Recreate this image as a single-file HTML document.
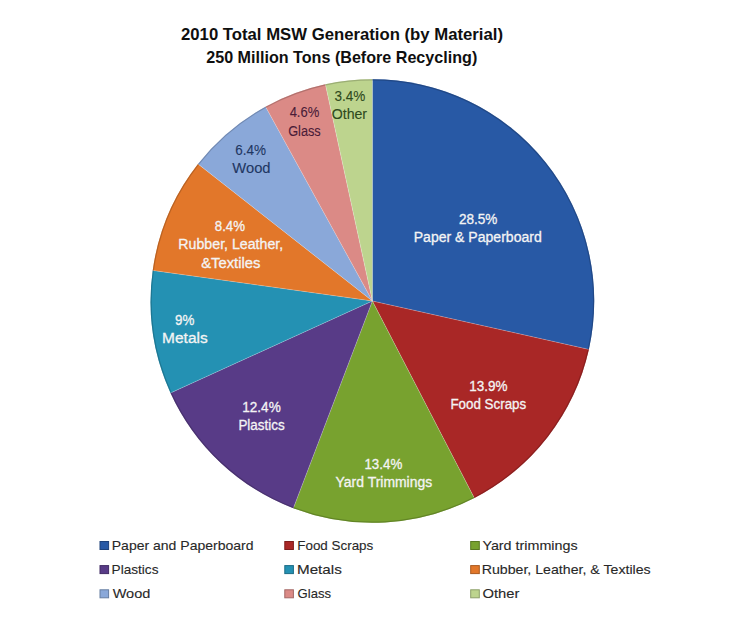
<!DOCTYPE html>
<html><head><meta charset="utf-8"><style>
html,body{margin:0;padding:0;background:#fff;}
svg{display:block;}
text{font-family:"Liberation Sans",sans-serif;}
</style></head><body>
<svg width="750" height="625" viewBox="0 0 750 625">
<rect width="750" height="625" fill="#ffffff"/>
<g>
<path d="M372.4,301.0 L372.40,79.20 A221.8,221.8 0 0 1 588.86,349.38 Z" fill="#2859A5"/>
<path d="M372.4,301.0 L588.86,349.38 A221.8,221.8 0 0 1 474.33,497.99 Z" fill="#A92726"/>
<path d="M372.4,301.0 L474.33,497.99 A221.8,221.8 0 0 1 293.35,508.23 Z" fill="#78A22F"/>
<path d="M372.4,301.0 L293.35,508.23 A221.8,221.8 0 0 1 170.54,392.91 Z" fill="#583B87"/>
<path d="M372.4,301.0 L170.54,392.91 A221.8,221.8 0 0 1 152.72,270.44 Z" fill="#2491B3"/>
<path d="M372.4,301.0 L152.72,270.44 A221.8,221.8 0 0 1 198.00,163.96 Z" fill="#E2772A"/>
<path d="M372.4,301.0 L198.00,163.96 A221.8,221.8 0 0 1 265.55,106.64 Z" fill="#8AA8D9"/>
<path d="M372.4,301.0 L265.55,106.64 A221.8,221.8 0 0 1 325.38,84.24 Z" fill="#DB8A86"/>
<path d="M372.4,301.0 L325.38,84.24 A221.8,221.8 0 0 1 372.40,79.20 Z" fill="#BDD48E"/>
</g>
<g stroke="#ffffff" stroke-opacity="0.3" stroke-width="0.8">
<line x1="372.4" y1="301.0" x2="372.40" y2="79.20"/>
<line x1="372.4" y1="301.0" x2="588.86" y2="349.38"/>
<line x1="372.4" y1="301.0" x2="474.33" y2="497.99"/>
<line x1="372.4" y1="301.0" x2="293.35" y2="508.23"/>
<line x1="372.4" y1="301.0" x2="170.54" y2="392.91"/>
<line x1="372.4" y1="301.0" x2="152.72" y2="270.44"/>
<line x1="372.4" y1="301.0" x2="198.00" y2="163.96"/>
<line x1="372.4" y1="301.0" x2="265.55" y2="106.64"/>
<line x1="372.4" y1="301.0" x2="325.38" y2="84.24"/>
</g>
<g><path d="M372.40,79.80 A221.20000000000002,221.20000000000002 0 0 1 588.27,349.25" fill="none" stroke="#1C3E73" stroke-width="1.2" stroke-opacity="0.6"/>
<path d="M588.27,349.25 A221.20000000000002,221.20000000000002 0 0 1 474.06,497.46" fill="none" stroke="#761B1A" stroke-width="1.2" stroke-opacity="0.6"/>
<path d="M474.06,497.46 A221.20000000000002,221.20000000000002 0 0 1 293.56,507.67" fill="none" stroke="#547120" stroke-width="1.2" stroke-opacity="0.6"/>
<path d="M293.56,507.67 A221.20000000000002,221.20000000000002 0 0 1 171.08,392.66" fill="none" stroke="#3D295E" stroke-width="1.2" stroke-opacity="0.6"/>
<path d="M171.08,392.66 A221.20000000000002,221.20000000000002 0 0 1 153.31,270.52" fill="none" stroke="#19657D" stroke-width="1.2" stroke-opacity="0.6"/>
<path d="M153.31,270.52 A221.20000000000002,221.20000000000002 0 0 1 198.47,164.33" fill="none" stroke="#9E531D" stroke-width="1.2" stroke-opacity="0.6"/>
<path d="M198.47,164.33 A221.20000000000002,221.20000000000002 0 0 1 265.84,107.16" fill="none" stroke="#607597" stroke-width="1.2" stroke-opacity="0.6"/>
<path d="M265.84,107.16 A221.20000000000002,221.20000000000002 0 0 1 325.50,84.83" fill="none" stroke="#99605D" stroke-width="1.2" stroke-opacity="0.6"/>
<path d="M325.50,84.83 A221.20000000000002,221.20000000000002 0 0 1 372.40,79.80" fill="none" stroke="#849463" stroke-width="1.2" stroke-opacity="0.6"/></g>
<rect x="100.0" y="541.5" width="8.6" height="8" fill="#2859A5" stroke="#1E427B" stroke-width="1"/>
<rect x="284.8" y="541.5" width="8.6" height="8" fill="#A92726" stroke="#7E1D1C" stroke-width="1"/>
<rect x="470.7" y="541.5" width="8.6" height="8" fill="#78A22F" stroke="#5A7923" stroke-width="1"/>
<rect x="100.0" y="565.6" width="8.6" height="8" fill="#583B87" stroke="#422C65" stroke-width="1"/>
<rect x="284.8" y="565.6" width="8.6" height="8" fill="#2491B3" stroke="#1B6C86" stroke-width="1"/>
<rect x="470.7" y="565.6" width="8.6" height="8" fill="#E2772A" stroke="#A9591F" stroke-width="1"/>
<rect x="100.0" y="589.8" width="8.6" height="8" fill="#8AA8D9" stroke="#677EA2" stroke-width="1"/>
<rect x="284.8" y="589.8" width="8.6" height="8" fill="#DB8A86" stroke="#A46764" stroke-width="1"/>
<rect x="470.7" y="589.8" width="8.6" height="8" fill="#BDD48E" stroke="#8D9F6A" stroke-width="1"/>
<g text-anchor="middle">
<text x="342.00" y="39.8" fill="#0F0F0F" stroke="#0F0F0F" stroke-width="0.0" font-size="17" font-weight="bold" textLength="322.00" lengthAdjust="spacingAndGlyphs">2010 Total MSW Generation (by Material)</text>
<text x="341.75" y="63.2" fill="#0F0F0F" stroke="#0F0F0F" stroke-width="0.0" font-size="17" font-weight="bold" textLength="271.00" lengthAdjust="spacingAndGlyphs">250 Million Tons (Before Recycling)</text>
<text x="478.15" y="224" fill="#F4F4F4" stroke="#F4F4F4" stroke-width="0.3" font-size="14" font-weight="normal" textLength="38.41" lengthAdjust="spacingAndGlyphs">28.5%</text>
<text x="477.75" y="242" fill="#F4F4F4" stroke="#F4F4F4" stroke-width="0.3" font-size="14" font-weight="normal" textLength="128.02" lengthAdjust="spacingAndGlyphs">Paper &amp; Paperboard</text>
<text x="488.30" y="391" fill="#F4F4F4" stroke="#F4F4F4" stroke-width="0.3" font-size="14" font-weight="normal" textLength="38.21" lengthAdjust="spacingAndGlyphs">13.9%</text>
<text x="488.30" y="409.2" fill="#F4F4F4" stroke="#F4F4F4" stroke-width="0.3" font-size="14" font-weight="normal" textLength="75.83" lengthAdjust="spacingAndGlyphs">Food Scraps</text>
<text x="383.35" y="469" fill="#F4F4F4" stroke="#F4F4F4" stroke-width="0.3" font-size="14" font-weight="normal" textLength="37.82" lengthAdjust="spacingAndGlyphs">13.4%</text>
<text x="383.90" y="487.3" fill="#F4F4F4" stroke="#F4F4F4" stroke-width="0.3" font-size="14" font-weight="normal" textLength="96.61" lengthAdjust="spacingAndGlyphs">Yard Trimmings</text>
<text x="261.50" y="412.2" fill="#F4F4F4" stroke="#F4F4F4" stroke-width="0.3" font-size="14" font-weight="normal" textLength="38.44" lengthAdjust="spacingAndGlyphs">12.4%</text>
<text x="261.50" y="430.2" fill="#F4F4F4" stroke="#F4F4F4" stroke-width="0.3" font-size="14" font-weight="normal" textLength="46.21" lengthAdjust="spacingAndGlyphs">Plastics</text>
<text x="184.65" y="324.5" fill="#F4F4F4" stroke="#F4F4F4" stroke-width="0.3" font-size="14" font-weight="normal" textLength="19.27" lengthAdjust="spacingAndGlyphs">9%</text>
<text x="184.90" y="343.2" fill="#F4F4F4" stroke="#F4F4F4" stroke-width="0.3" font-size="14" font-weight="normal" textLength="45.52" lengthAdjust="spacingAndGlyphs">Metals</text>
<text x="229.90" y="230.5" fill="#F4F4F4" stroke="#F4F4F4" stroke-width="0.3" font-size="14" font-weight="normal" textLength="30.21" lengthAdjust="spacingAndGlyphs">8.4%</text>
<text x="230.80" y="249.2" fill="#F4F4F4" stroke="#F4F4F4" stroke-width="0.3" font-size="14" font-weight="normal" textLength="104.86" lengthAdjust="spacingAndGlyphs">Rubber, Leather,</text>
<text x="230.80" y="267.6" fill="#F4F4F4" stroke="#F4F4F4" stroke-width="0.3" font-size="14" font-weight="normal" textLength="59.25" lengthAdjust="spacingAndGlyphs">&amp;Textiles</text>
<text x="250.60" y="154.5" fill="#1F3763" stroke="#1F3763" stroke-width="0.1" font-size="14" font-weight="normal" textLength="30.81" lengthAdjust="spacingAndGlyphs">6.4%</text>
<text x="251.45" y="172.6" fill="#1F3763" stroke="#1F3763" stroke-width="0.1" font-size="14" font-weight="normal" textLength="38.23" lengthAdjust="spacingAndGlyphs">Wood</text>
<text x="304.45" y="117.4" fill="#4A1C38" stroke="#4A1C38" stroke-width="0.1" font-size="14" font-weight="normal" textLength="29.60" lengthAdjust="spacingAndGlyphs">4.6%</text>
<text x="304.45" y="135.7" fill="#4A1C38" stroke="#4A1C38" stroke-width="0.1" font-size="14" font-weight="normal" textLength="32.60" lengthAdjust="spacingAndGlyphs">Glass</text>
<text x="349.90" y="100.5" fill="#2E4A1C" stroke="#2E4A1C" stroke-width="0.1" font-size="14" font-weight="normal" textLength="30.87" lengthAdjust="spacingAndGlyphs">3.4%</text>
<text x="349.40" y="118.9" fill="#2E4A1C" stroke="#2E4A1C" stroke-width="0.1" font-size="14" font-weight="normal" textLength="35.40" lengthAdjust="spacingAndGlyphs">Other</text>
<text x="182.65" y="550.3" fill="#282828" stroke="#282828" stroke-width="0.12" font-size="13.5" font-weight="normal" textLength="141.83" lengthAdjust="spacingAndGlyphs">Paper and Paperboard</text>
<text x="335.25" y="550.2" fill="#282828" stroke="#282828" stroke-width="0.12" font-size="13.5" font-weight="normal" textLength="76.03" lengthAdjust="spacingAndGlyphs">Food Scraps</text>
<text x="530.00" y="550.2" fill="#282828" stroke="#282828" stroke-width="0.12" font-size="13.5" font-weight="normal" textLength="95.20" lengthAdjust="spacingAndGlyphs">Yard trimmings</text>
<text x="135.05" y="574.0" fill="#282828" stroke="#282828" stroke-width="0.12" font-size="13.5" font-weight="normal" textLength="46.82" lengthAdjust="spacingAndGlyphs">Plastics</text>
<text x="319.40" y="574.0" fill="#282828" stroke="#282828" stroke-width="0.12" font-size="13.5" font-weight="normal" textLength="44.85" lengthAdjust="spacingAndGlyphs">Metals</text>
<text x="566.20" y="574.0" fill="#282828" stroke="#282828" stroke-width="0.12" font-size="13.5" font-weight="normal" textLength="169.01" lengthAdjust="spacingAndGlyphs">Rubber, Leather, &amp; Textiles</text>
<text x="131.50" y="597.9" fill="#282828" stroke="#282828" stroke-width="0.12" font-size="13.5" font-weight="normal" textLength="37.62" lengthAdjust="spacingAndGlyphs">Wood</text>
<text x="314.30" y="597.9" fill="#282828" stroke="#282828" stroke-width="0.12" font-size="13.5" font-weight="normal" textLength="33.45" lengthAdjust="spacingAndGlyphs">Glass</text>
<text x="500.95" y="597.8" fill="#282828" stroke="#282828" stroke-width="0.12" font-size="13.5" font-weight="normal" textLength="37.01" lengthAdjust="spacingAndGlyphs">Other</text>
</g>
</svg>
</body></html>
